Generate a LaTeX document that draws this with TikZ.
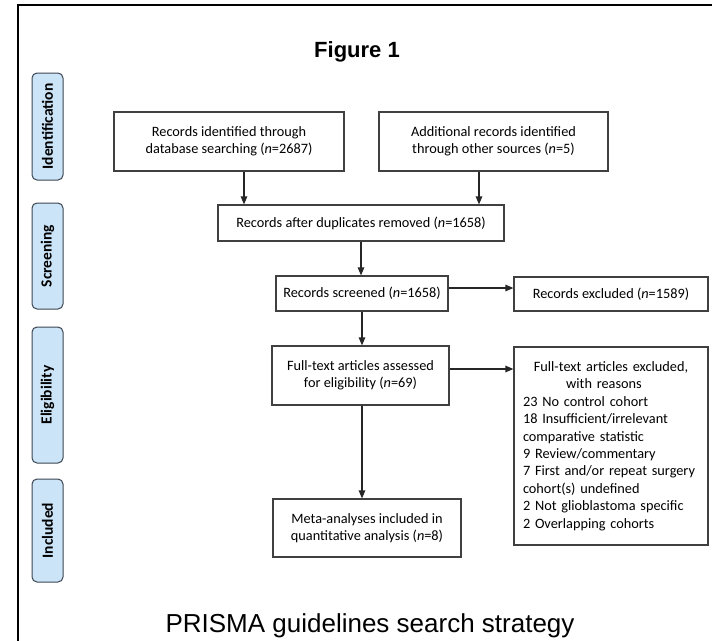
\documentclass[tikz,border=0pt]{standalone}
\usepackage{fontspec}
\setmainfont{Carlito}
\newfontfamily\arialfont{Liberation Sans}
\usetikzlibrary{arrows.meta}
\definecolor{sidefill}{RGB}{204,228,247}
\definecolor{sidedraw}{RGB}{60,70,82}
\definecolor{boxdraw}{RGB}{64,64,64}
\tikzset{
  flowbox/.style={draw=boxdraw, line width=1.2pt, fill=white, inner sep=0pt, align=center,
    font=\fontsize{14.3}{17.4}\selectfont},
  sidebox/.style={draw=sidedraw, line width=1pt, fill=sidefill, rounded corners=5pt, rotate=90,
    inner sep=0pt, font=\fontsize{15.5}{18}\selectfont\bfseries},
  arr/.style={line width=1.2pt, draw=black!85, -{Triangle[length=8pt,width=6.5pt]}},
}
\begin{document}
\begin{tikzpicture}[x=1pt,y=-1pt]
\useasboundingbox (0,0) rectangle (712,640);
\clip (0,0) rectangle (712,640);
\fill[white] (0,0) rectangle (712,640);
% outer frame (right and bottom sides are cut off)
\draw[line width=1.5pt] (18,5) rectangle (730,660);

% title and caption
\node[anchor=base, font=\arialfont\fontsize{22}{26}\selectfont\bfseries] (title) at (357,57) {Figure 1};
\node[anchor=base, font=\arialfont\fontsize{26}{30}\selectfont] (caption) at (370,632) {PRISMA guidelines search strategy};

% side labels
\node[sidebox, minimum width=107pt, minimum height=31pt] (s1) at (47.5,126.5) {Identification};
\node[sidebox, minimum width=106pt, minimum height=31pt] (s2) at (47.5,256) {Screening};
\node[sidebox, minimum width=136pt, minimum height=31pt] (s3) at (47.5,395) {Eligibility};
\node[sidebox, minimum width=103pt, minimum height=31pt] (s4) at (47.5,530.5) {Included};

% flow boxes
\node[flowbox, minimum width=230pt, minimum height=59pt] (b1) at (229,141.5)
  {Records identified through\\database searching (\textit{n}=2687)};
\node[flowbox, minimum width=229pt, minimum height=59pt] (b2) at (493.5,141.5)
  {Additional records identified\\through other sources (\textit{n}=5)};
\node[flowbox, minimum width=286pt, minimum height=36pt] (b3) at (361,223)
  {Records after duplicates removed (\textit{n}=1658)};
\node[flowbox, minimum width=172pt, minimum height=35pt] (b4) at (362,293.5)
  {Records screened (\textit{n}=1658)};
\node[flowbox, minimum width=194pt, minimum height=34pt] (b5) at (611,294)
  {Records excluded (\textit{n}=1589)};
\node[flowbox, minimum width=177pt, minimum height=59pt] (b6) at (360.5,375.5)
  {Full-text articles assessed\\for eligibility (\textit{n}=69)};
\node[flowbox, minimum width=194pt, minimum height=198pt, text width=176pt, align=left] (b7) at (611,446)
  {{\centering Full-text articles excluded,\hspace*{14pt}\\with reasons\hspace*{14pt}\par}
   23 No control cohort\\
   18 Insufficient/irrelevant\\
   comparative statistic\\
   9 Review/commentary\\
   7 First and/or repeat surgery\\
   cohort(s) undefined\\
   2 Not glioblastoma specific\\
   2 Overlapping cohorts};
\node[flowbox, minimum width=188pt, minimum height=58pt] (b8) at (367,528)
  {Meta-analyses included in\\quantitative analysis (\textit{n}=8)};

% connectors
\draw[arr] ([xshift=15pt]b1.south) -- ([xshift=15pt]b1.south |- b3.north);
\draw[arr] ([xshift=-14.5pt]b2.south) -- ([xshift=-14.5pt]b2.south |- b3.north);
\draw[arr] (b3.south) -- (b3.south |- b4.north);
\draw[arr] ([yshift=5.5pt]b4.east) -- ([yshift=5.5pt]b4.east -| b5.west);
\draw[arr] (b4.south) -- (b4.south |- b6.north);
\draw[arr] ([yshift=6.5pt]b6.east) -- ([yshift=6.5pt]b6.east -| b7.west);
\draw[arr] ([xshift=1.5pt]b6.south) -- ([xshift=1.5pt]b6.south |- b8.north);
\end{tikzpicture}
\end{document}
